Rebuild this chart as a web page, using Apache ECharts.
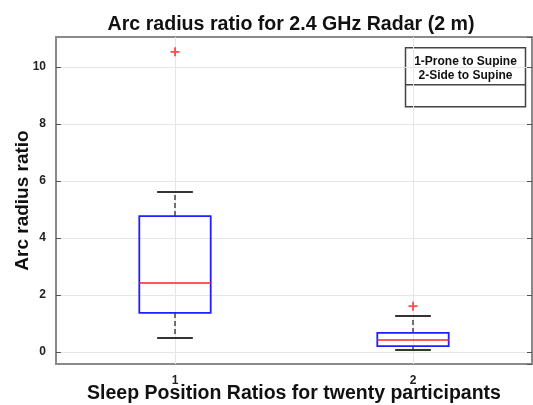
<!DOCTYPE html>
<html>
<head>
<meta charset="utf-8">
<title>Arc radius ratio</title>
<script src="https://cdn.jsdelivr.net/npm/echarts@6/dist/echarts.min.js"></script>
<style>
  html, body { margin: 0; padding: 0; background: #fff; }
  #main { width: 533px; height: 405px; }
</style>
</head>
<body>
<div id="main"></div>
<script>
// data
var categories = ['1', '2'];
var lowerWhisker = [0.49, 0.07];
var q1 = [1.37, 0.21];
var median = [2.42, 0.42];
var q3 = [4.77, 0.67];
var upperWhisker = [5.61, 1.26];
var outliers = [[0, 10.53], [1, 1.61]];
var legendLines = ['1-Prone to Supine', '2-Side to Supine'];

var boxRows = categories.map(function (c, i) {
    return [i, lowerWhisker[i], q1[i], median[i], q3[i], upperWhisker[i]];
});

var frameColor = '#8a8a8a';
var font = '"Liberation Sans", Arial, sans-serif';

function renderBox(params, api) {
    var x = api.value(0);
    var lo = api.coord([x, api.value(1)]);
    var b1 = api.coord([x, api.value(2)]);
    var md = api.coord([x, api.value(3)]);
    var b3 = api.coord([x, api.value(4)]);
    var hi = api.coord([x, api.value(5)]);
    var band = api.size([1, 0])[0];
    var hw = band * 0.15, cw = band * 0.075;
    var cx = lo[0];
    return {
        type: 'group',
        children: [
            { type: 'line', shape: { x1: cx, y1: b3[1], x2: cx, y2: hi[1] },
              style: { stroke: '#444', lineWidth: 1.5, lineDash: [5, 3] } },
            { type: 'line', shape: { x1: cx, y1: b1[1], x2: cx, y2: lo[1] },
              style: { stroke: '#444', lineWidth: 1.5, lineDash: [5, 3] } },
            { type: 'line', shape: { x1: cx - cw, y1: hi[1], x2: cx + cw, y2: hi[1] },
              style: { stroke: '#333', lineWidth: 2 } },
            { type: 'line', shape: { x1: cx - cw, y1: lo[1], x2: cx + cw, y2: lo[1] },
              style: { stroke: '#333', lineWidth: 2 } },
            { type: 'rect', shape: { x: cx - hw, y: b3[1], width: hw * 2, height: b1[1] - b3[1] },
              style: { fill: 'none', stroke: '#1f1fff', lineWidth: 1.8 } },
            { type: 'line', shape: { x1: cx - hw, y1: md[1], x2: cx + hw, y2: md[1] },
              style: { stroke: '#ff2020', lineWidth: 1.5 } }
        ]
    };
}

var myChart = echarts.init(document.getElementById('main'));

var option = {
    animation: false,
    backgroundColor: '#fff',
    title: {
        text: 'Arc radius ratio for 2.4 GHz Radar (2 m)',
        left: 286,
        top: 10,
        textAlign: 'center',
        textStyle: { fontFamily: font, fontSize: 19.6, fontWeight: 'bold', color: '#111' }
    },
    grid: { left: 56, right: 1, top: 37, bottom: 41, outerBoundsMode: 'none', containLabel: false },
    xAxis: [
        {
            type: 'category',
            data: categories,
            position: 'bottom',
            boundaryGap: true,
            name: 'Sleep Position Ratios for twenty participants',
            nameLocation: 'middle',
            nameGap: 20,
            nameMoveOverlap: false,
            nameTextStyle: { fontFamily: font, fontSize: 19.5, fontWeight: 'bold', color: '#111' },
            axisLine: { onZero: false, lineStyle: { color: frameColor, width: 2 } },
            axisTick: { inside: true, alignWithLabel: true, length: 5, lineStyle: { color: '#555' } },
            axisLabel: { margin: 11, fontFamily: font, fontSize: 12, fontWeight: 'bold', color: '#222' },
            splitLine: { show: false }
        },
        {
            type: 'category',
            data: categories,
            position: 'top',
            boundaryGap: true,
            axisLine: { onZero: false, lineStyle: { color: frameColor, width: 2 } },
            axisTick: { inside: true, alignWithLabel: true, length: 5, lineStyle: { color: '#555' } },
            axisLabel: { show: false },
            splitLine: { show: false }
        }
    ],
    yAxis: [
        {
            type: 'value',
            min: -0.42,
            max: 11.05,
            minInterval: 2,
            maxInterval: 2,
            name: 'Arc radius ratio',
            nameLocation: 'middle',
            nameGap: 24,
            nameMoveOverlap: false,
            nameTextStyle: { fontFamily: font, fontSize: 19, fontWeight: 'bold', color: '#111' },
            axisLine: { show: true, onZero: false, lineStyle: { color: frameColor, width: 2 } },
            axisTick: { show: true, inside: true, length: 5, lineStyle: { color: '#555' } },
            axisLabel: { showMinLabel: false, showMaxLabel: false, margin: 10,
                         fontFamily: font, fontSize: 12, fontWeight: 'bold', color: '#222' },
            splitLine: { show: true, lineStyle: { color: '#e6e6e6', width: 1 } }
        },
        {
            type: 'value',
            position: 'right',
            min: -0.42,
            max: 11.05,
            minInterval: 2,
            maxInterval: 2,
            axisLine: { show: true, onZero: false, lineStyle: { color: frameColor, width: 2 } },
            axisTick: { show: true, inside: true, length: 5, lineStyle: { color: '#555' } },
            axisLabel: { show: false },
            splitLine: { show: false }
        }
    ],
    graphic: [
        {
            type: 'group',
            left: 403,
            top: 47,
            children: [
                { type: 'rect', shape: { x: 0, y: 0, width: 120, height: 59 },
                  style: { fill: '#fff', stroke: '#444', lineWidth: 1.5 } },
                { type: 'line', shape: { x1: 0, y1: 37, x2: 120, y2: 37 },
                  style: { stroke: '#444', lineWidth: 1.5 } },
                { type: 'text', x: 60, y: 14,
                  style: { text: legendLines[0], textAlign: 'center', textVerticalAlign: 'middle',
                           font: 'bold 12px ' + font, fill: '#111' } },
                { type: 'text', x: 60, y: 28,
                  style: { text: legendLines[1], textAlign: 'center', textVerticalAlign: 'middle',
                           font: 'bold 12px ' + font, fill: '#111' } }
            ]
        }
    ],
    series: [
        {
            name: 'box',
            type: 'custom',
            xAxisIndex: 0,
            yAxisIndex: 0,
            renderItem: renderBox,
            encode: { x: 0, y: [1, 2, 3, 4, 5] },
            data: boxRows,
            z: 3,
            markLine: {
                silent: true,
                symbol: 'none',
                label: { show: false },
                lineStyle: { color: '#e6e6e6', type: 'solid', width: 1 },
                data: [{ xAxis: categories[0] }, { xAxis: categories[1] }],
                z: 1
            }
        },
        {
            name: 'outliers',
            type: 'scatter',
            xAxisIndex: 0,
            yAxisIndex: 0,
            symbol: 'path://M4,0h2v10h-2z M0,4h10v2h-10z',
            symbolSize: [9, 9],
            itemStyle: { color: '#ff2020' },
            data: outliers,
            z: 4
        }
    ]
};

myChart.setOption(option);
</script>
</body>
</html>
